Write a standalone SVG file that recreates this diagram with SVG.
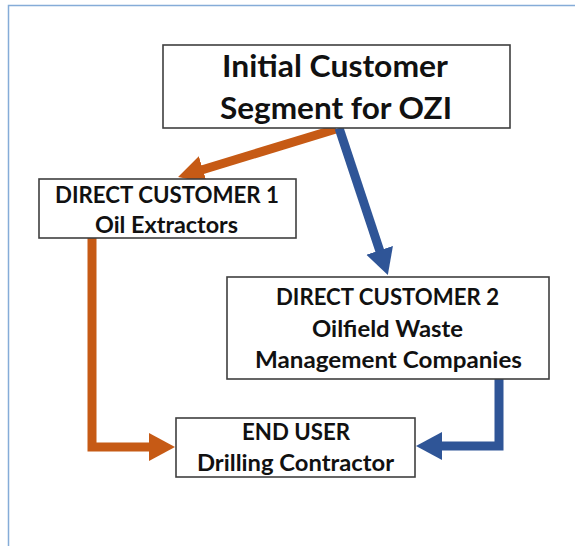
<svg xmlns="http://www.w3.org/2000/svg" width="575" height="546" viewBox="0 0 575 546">
  <style>
    .box { fill: #ffffff; stroke: #3f3f3f; stroke-width: 1.6; }
    .t { font-family: Lato, "Open Sans", "Liberation Sans", sans-serif; font-weight: bold; fill: #111111; text-anchor: middle; }
    .big { font-size: 31px; }
    .mid { font-size: 22px; }
    .or { stroke: #c65a15; stroke-width: 9; fill: none; stroke-linejoin: miter; }
    .bl { stroke: #2f5597; stroke-width: 9; fill: none; stroke-linejoin: miter; }
  </style>
  <defs>
    <marker id="headO" markerUnits="userSpaceOnUse" markerWidth="28" markerHeight="30" refX="4" refY="14" orient="auto">
      <path d="M0,0 L26,14 L0,28 z" fill="#c65a15"/>
    </marker>
    <marker id="headB" markerUnits="userSpaceOnUse" markerWidth="28" markerHeight="30" refX="4" refY="14" orient="auto">
      <path d="M0,0 L26,14 L0,28 z" fill="#2f5597"/>
    </marker>
  </defs>
  <rect x="0" y="0" width="575" height="546" fill="#ffffff"/>
  <rect x="8.5" y="5.5" width="600" height="600" fill="none" stroke="#85acd8" stroke-width="1.5"/>

  <g id="connectors">
    <line class="or" x1="336" y1="129" x2="199.1" y2="170.7" marker-end="url(#headO)"/>
    <line class="bl" x1="339" y1="128" x2="380.9" y2="254.2" marker-end="url(#headB)"/>
    <polyline class="or" points="92,238 92,447 153,447" marker-end="url(#headO)"/>
    <polyline class="bl" points="499,379 499,446 438,446" marker-end="url(#headB)"/>
  </g>

  <g id="node-initial">
    <rect class="box" x="163" y="45" width="347" height="83"/>
    <text class="t big" x="335" y="77" textLength="226" lengthAdjust="spacingAndGlyphs">Initial Customer</text>
    <text class="t big" x="336" y="119" textLength="232" lengthAdjust="spacingAndGlyphs">Segment for OZI</text>
  </g>
  <g id="node-dc1">
    <rect class="box" x="39" y="179" width="257" height="59"/>
    <text class="t mid" x="167" y="203" textLength="224" lengthAdjust="spacingAndGlyphs">DIRECT CUSTOMER 1</text>
    <text class="t mid" x="166.5" y="233" textLength="143" lengthAdjust="spacingAndGlyphs">Oil Extractors</text>
  </g>
  <g id="node-dc2">
    <rect class="box" x="227" y="277" width="322" height="102"/>
    <text class="t mid" x="387.5" y="305" textLength="223" lengthAdjust="spacingAndGlyphs">DIRECT CUSTOMER 2</text>
    <text class="t mid" x="387.5" y="337" textLength="151" lengthAdjust="spacingAndGlyphs">Oilfield Waste</text>
    <text class="t mid" x="388.5" y="368" textLength="267" lengthAdjust="spacingAndGlyphs">Management Companies</text>
  </g>
  <g id="node-enduser">
    <rect class="box" x="176" y="418" width="239" height="59"/>
    <text class="t mid" x="296" y="440" textLength="108" lengthAdjust="spacingAndGlyphs">END USER</text>
    <text class="t mid" x="295.5" y="471" textLength="197" lengthAdjust="spacingAndGlyphs">Drilling Contractor</text>
  </g>
</svg>
